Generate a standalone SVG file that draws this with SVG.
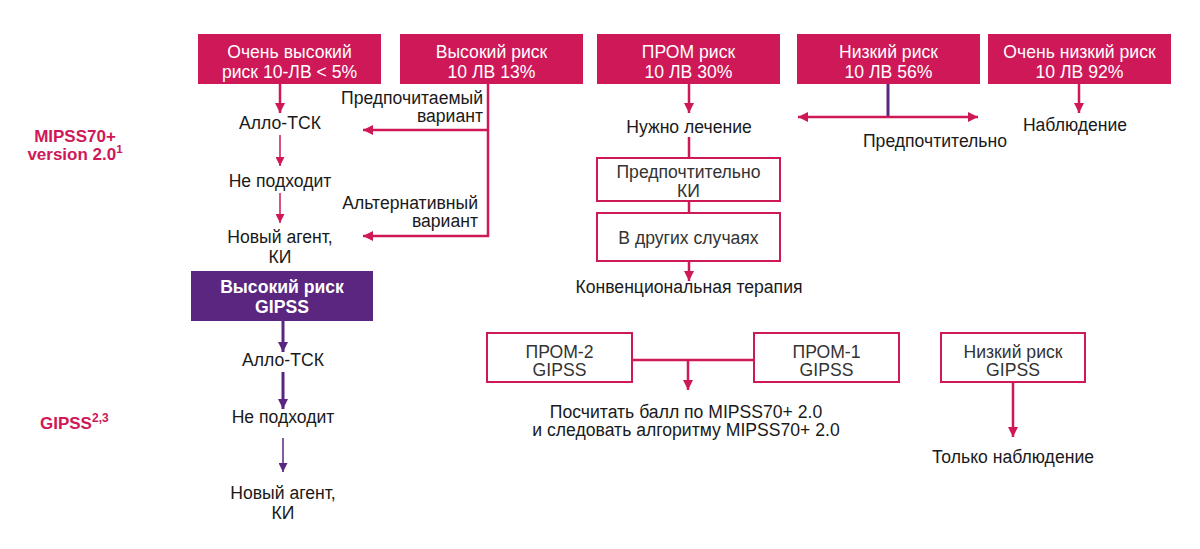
<svg xmlns="http://www.w3.org/2000/svg" width="1200" height="549" viewBox="0 0 1200 549">
<defs>
<style>
text{font-family:"Liberation Sans",Arial,sans-serif;font-size:17.6px;fill:#1a1a1a;text-anchor:middle}
.w{fill:#fff}
.b{font-weight:bold}
.g{fill:#333}
.r{fill:#CE1858;font-weight:bold;font-size:17px}
.fill{fill:#CE1858}
.box{fill:#fff;stroke:#CE1858;stroke-width:2}
.c{fill:none;stroke:#CE1858;stroke-width:2.5}
.t{fill:none;stroke:#CE1858;stroke-width:1.5}
.p{fill:none;stroke:#5A2680;stroke-width:3}
.pt{fill:none;stroke:#5A2680;stroke-width:1.5}
.end{text-anchor:end}
</style>
<marker id="ah" viewBox="0 0 10 10" refX="10" refY="5" markerWidth="10" markerHeight="10" markerUnits="userSpaceOnUse" orient="auto-start-reverse"><path d="M0,0 L10,5 L0,10 z" fill="#CE1858"/></marker>
<marker id="ahs" viewBox="0 0 10 10" refX="10" refY="5" markerWidth="9" markerHeight="9" markerUnits="userSpaceOnUse" orient="auto"><path d="M0,0 L10,5 L0,10 z" fill="#CE1858"/></marker>
<marker id="ap" viewBox="0 0 10 10" refX="10" refY="5" markerWidth="10" markerHeight="10" markerUnits="userSpaceOnUse" orient="auto"><path d="M0,0 L10,5 L0,10 z" fill="#5A2680"/></marker>
<marker id="aps" viewBox="0 0 10 10" refX="10" refY="5" markerWidth="9" markerHeight="9" markerUnits="userSpaceOnUse" orient="auto"><path d="M0,0 L10,5 L0,10 z" fill="#5A2680"/></marker>
</defs>
<rect width="1200" height="549" fill="#fff"/>

<g id="connectors">
<path class="c" d="M280,84 V113" marker-end="url(#ah)"/>
<path class="t" d="M280,135 V166" marker-end="url(#ahs)"/>
<path class="t" d="M280,193 V223" marker-end="url(#ahs)"/>
<path class="c" d="M488,84 V236 H363" marker-end="url(#ah)"/>
<path class="c" d="M488,130 H363" marker-end="url(#ah)"/>
<path class="c" d="M689,84 V113" marker-end="url(#ah)"/>
<path class="c" d="M689,137 V158"/>
<path class="c" d="M689,201 V213"/>
<path class="c" d="M689,261 V281" marker-end="url(#ah)"/>
<path class="p" d="M888,84 V117"/>
<path class="c" d="M798,117 H978" marker-start="url(#ah)" marker-end="url(#ah)"/>
<path class="c" d="M1079,84 V113" marker-end="url(#ah)"/>
<path class="p" d="M283,321 V352" marker-end="url(#ap)"/>
<path class="p" d="M283,372 V409" marker-end="url(#ap)"/>
<path class="pt" d="M283,438 V472" marker-end="url(#aps)"/>
<path class="c" d="M632,360 H754"/>
<path class="c" d="M688,360 V390" marker-end="url(#ah)"/>
<path class="c" d="M1013,382 V437" marker-end="url(#ah)"/>
</g>

<g id="label-mipss">
<text class="r" x="75" y="142">MIPSS70+</text>
<text class="r" x="75" y="160">version 2.0<tspan font-size="11.5" dy="-7">1</tspan></text>
</g>
<g id="label-gipss">
<text class="r" x="40" y="429" style="text-anchor:start">GIPSS<tspan font-size="12" dy="-7">2,3</tspan></text>
</g>

<g id="n-very-high">
<rect class="fill" x="198" y="34" width="183" height="50"/>
<text class="w" x="289.5" y="58">Очень высокий</text>
<text class="w" x="289.5" y="78">риск 10-ЛВ &lt; 5%</text>
</g>
<g id="n-high">
<rect class="fill" x="400" y="34" width="183" height="50"/>
<text class="w" x="491.5" y="58">Высокий риск</text>
<text class="w" x="491.5" y="78">10 ЛВ 13%</text>
</g>
<g id="n-int">
<rect class="fill" x="597" y="34" width="183" height="50"/>
<text class="w" x="688.5" y="58">ПРОМ риск</text>
<text class="w" x="688.5" y="78">10 ЛВ 30%</text>
</g>
<g id="n-low">
<rect class="fill" x="797" y="34" width="183" height="50"/>
<text class="w" x="888.5" y="58">Низкий риск</text>
<text class="w" x="888.5" y="78">10 ЛВ 56%</text>
</g>
<g id="n-very-low">
<rect class="fill" x="988" y="34" width="183" height="50"/>
<text class="w" x="1079.5" y="58">Очень низкий риск</text>
<text class="w" x="1079.5" y="78">10 ЛВ 92%</text>
</g>

<g id="n-allo1"><text x="280" y="129">Алло-ТСК</text></g>
<g id="n-unfit1"><text x="280" y="187">Не подходит</text></g>
<g id="n-new1"><text x="280" y="243">Новый агент,</text><text x="280" y="263">КИ</text></g>
<g id="lbl-pref"><text class="end" x="483" y="104">Предпочитаемый</text><text class="end" x="483" y="122">вариант</text></g>
<g id="lbl-alt"><text class="end" x="478" y="209">Альтернативный</text><text class="end" x="478" y="227">вариант</text></g>

<g id="n-need"><text x="689" y="133">Нужно лечение</text></g>
<g id="n-pref-ki">
<rect class="box" x="597" y="158" width="183" height="43"/>
<text class="g" x="688.5" y="178">Предпочтительно</text>
<text class="g" x="688.5" y="197">КИ</text>
</g>
<g id="n-other">
<rect class="box" x="597" y="213" width="183" height="48"/>
<text class="g" x="688.5" y="244">В других случаях</text>
</g>
<g id="n-conv"><text x="689" y="293">Конвенциональная терапия</text></g>
<g id="lbl-pref2"><text x="935" y="147">Предпочтительно</text></g>
<g id="n-obs"><text x="1075" y="131">Наблюдение</text></g>

<g id="n-high-gipss">
<rect x="191" y="271" width="182" height="50" fill="#5A2680"/>
<text class="w b" x="282" y="293">Высокий риск</text>
<text class="w b" x="282" y="313">GIPSS</text>
</g>
<g id="n-allo2"><text x="283" y="366">Алло-ТСК</text></g>
<g id="n-unfit2"><text x="283" y="423">Не подходит</text></g>
<g id="n-new2"><text x="283" y="499">Новый агент,</text><text x="283" y="519">КИ</text></g>

<g id="n-int2">
<rect class="box" x="487" y="333" width="145" height="49"/>
<text class="g" x="559.5" y="358">ПРОМ-2</text>
<text class="g" x="559.5" y="376">GIPSS</text>
</g>
<g id="n-int1">
<rect class="box" x="754" y="333" width="145" height="49"/>
<text class="g" x="826.5" y="358">ПРОМ-1</text>
<text class="g" x="826.5" y="376">GIPSS</text>
</g>
<g id="n-calc"><text x="686" y="418">Посчитать балл по MIPSS70+ 2.0</text><text x="686" y="436">и следовать алгоритму MIPSS70+ 2.0</text></g>
<g id="n-low-gipss">
<rect class="box" x="941" y="333" width="144" height="49"/>
<text class="g" x="1013" y="358">Низкий риск</text>
<text class="g" x="1013" y="376">GIPSS</text>
</g>
<g id="n-only-obs"><text x="1013" y="463">Только наблюдение</text></g>
</svg>
